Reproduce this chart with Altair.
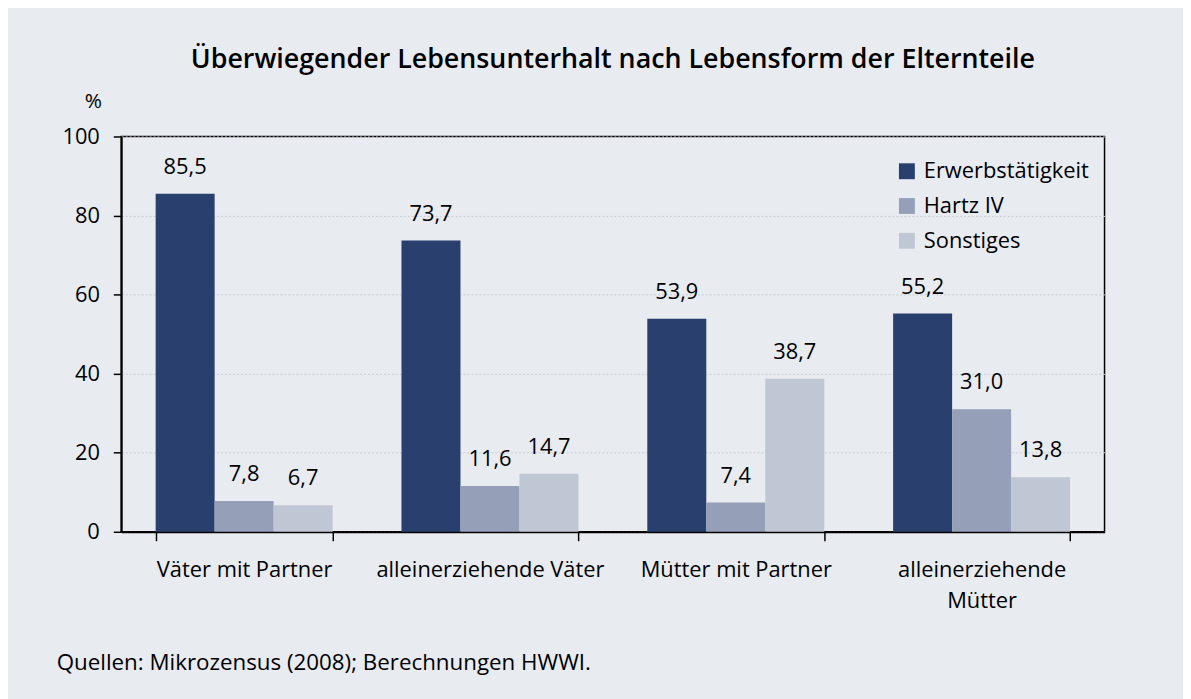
import altair as alt
import pandas as pd

categories = ["Väter mit Partner", "alleinerziehende Väter", "Mütter mit Partner", "alleinerziehende\nMütter"]
series = ["Erwerbstätigkeit", "Hartz IV", "Sonstiges"]
erwerb = [85.5, 73.7, 53.9, 55.2]
hartz = [7.8, 11.6, 7.4, 31.0]
sonst = [6.7, 14.7, 38.7, 13.8]
colors = ["#29406E", "#95A0B8", "#BFC6D4"]

rows = []
for i, c in enumerate(categories):
    for s, vals in zip(series, [erwerb, hartz, sonst]):
        rows.append({"Kategorie": c, "Serie": s, "Wert": vals[i]})
df = pd.DataFrame(rows)

FONT = "Open Sans"

x = alt.X("Kategorie:N", sort=categories, title=None,
          scale=alt.Scale(paddingInner=0.28, paddingOuter=0.14),
          axis=alt.Axis(labelExpr="split(datum.label, '\\n')", labelAngle=0, labelLimit=0,
                        tickBand="extent", tickSize=9, tickColor="black", tickWidth=1.5,
                        domainColor="black", domainWidth=2, labelFontSize=22,
                        labelPadding=19, labelLineHeight=31, labelColor="black",
                        labelFont=FONT, grid=False, labelBaseline="top"))
xo = alt.XOffset("Serie:N", sort=series)
y = alt.Y("Wert:Q", scale=alt.Scale(domain=[0, 100], nice=False),
          axis=alt.Axis(values=[0, 20, 40, 60, 80, 100], title="%", titleAngle=0,
                        titleX=-20, titleY=-25, titleBaseline="bottom", titleAlign="right",
                        titleFontSize=21, titleFontWeight="normal", titleFont=FONT,
                        titleColor="black",
                        tickSize=8, tickColor="black", tickWidth=1.5,
                        domainColor="black", domainWidth=2,
                        labelFontSize=22, labelPadding=14, labelColor="black", labelFont=FONT,
                        gridColor="#C9CDD5", gridDash=[2, 2], gridWidth=1))
color = alt.Color("Serie:N", sort=series,
                  scale=alt.Scale(domain=series, range=colors),
                  legend=alt.Legend(title=None, orient="none", legendX=780, legendY=24,
                                    symbolType="square", symbolSize=256, symbolStrokeWidth=0,
                                    labelFontSize=22, labelFont=FONT, labelColor="black",
                                    rowPadding=13, labelOffset=6, symbolOpacity=1, labelLimit=0))

base = alt.Chart(df)
bars = base.mark_bar().encode(x=x, xOffset=xo, y=y, color=color)
labels = base.transform_calculate(
    lab="replace(format(datum.Wert, '.1f'), '.', ',')"
).mark_text(dy=-20, baseline="alphabetic", fontSize=22, font=FONT, color="black").encode(
    x=x, xOffset=xo, y=y, text="lab:N")
foot = alt.Chart(pd.DataFrame({"t": ["Quellen: Mikrozensus (2008); Berechnungen HWWI."]})).mark_text(
    align="left", baseline="middle", fontSize=22.5, font=FONT, color="black"
).encode(x=alt.value(-65), y=alt.value(530), text="t:N")

chart = alt.layer(bars, labels, foot).properties(
    width=990, height=398,
    title=alt.TitleParams("Überwiegender Lebensunterhalt nach Lebensform der Elternteile",
                          fontSize=27, font=FONT, fontWeight=600, color="black",
                          anchor="middle", offset=17),
    autosize=alt.AutoSizeParams(type="none"),
    padding={"left": 114, "top": 127, "right": 79, "bottom": 166},
    background="#E8EBF0",
).configure_view(stroke="black", strokeWidth=1.5).configure_axis(gridOpacity=1)

chart.save("out.html", embed_options={"renderer": "svg", "actions": False})
